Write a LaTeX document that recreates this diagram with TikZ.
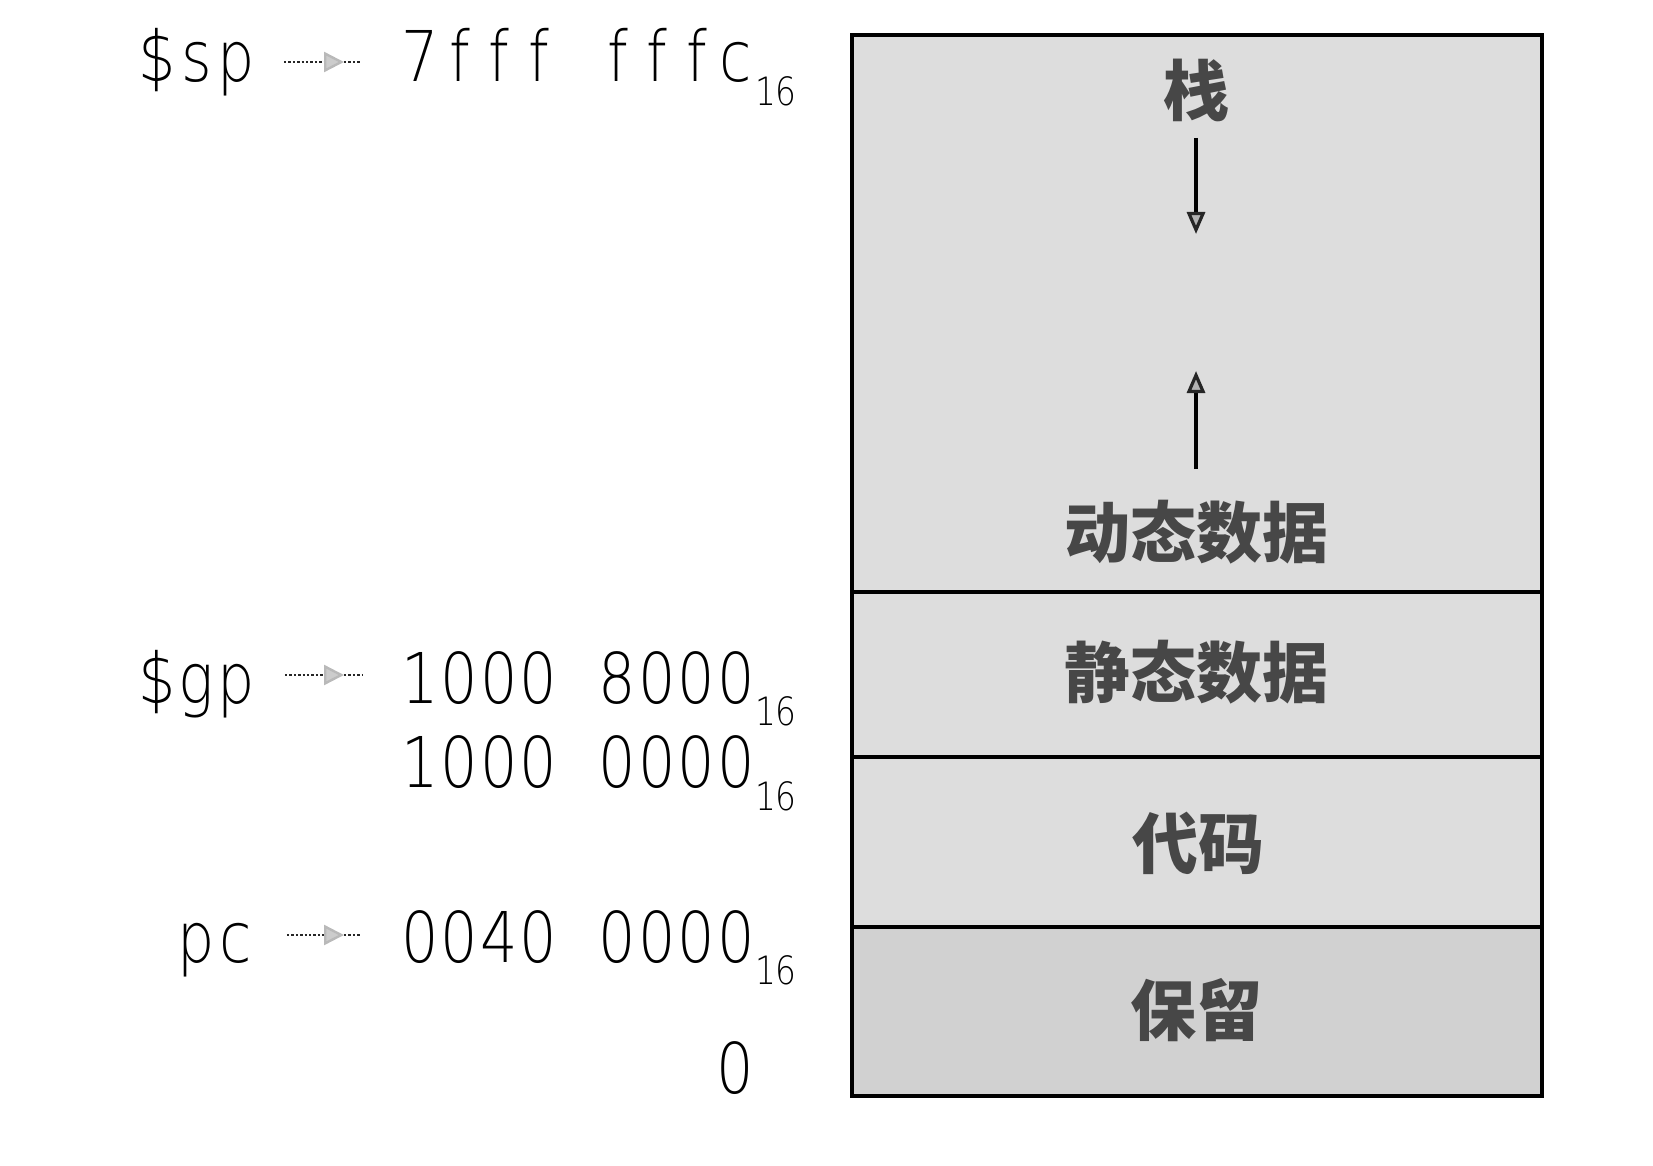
\documentclass[tikz,border=0pt]{standalone}
\usepackage{fontspec}
\usetikzlibrary{arrows.meta}
\newfontfamily\addrfont{DejaVu Sans ExtraLight}[FakeStretch=0.84]
\newfontfamily\cjk{Noto Sans CJK SC}
\newcommand\mcell[1]{\makebox[19.75pt][c]{#1}}
\newcommand\scell[1]{\makebox[9.6pt][c]{#1}}
\tikzset{
  segfill/.style={fill=gray!27},
  segfilldark/.style={fill=gray!36},
  seglabel/.style={font=\cjk\bfseries\fontsize{33}{33}\selectfont, text=black!72, inner sep=0pt},
  reglabel/.style={font=\addrfont\fontsize{35}{35}\selectfont, inner sep=0pt, anchor=base east},
  addrtext/.style={font=\addrfont\fontsize{35}{35}\selectfont, inner sep=0pt, anchor=base west},
  subtext/.style={font=\addrfont\fontsize{19.5}{19.5}\selectfont, inner sep=0pt, anchor=base west},
  ptrline/.style={densely dotted, draw=black!85, line width=1.2pt},
  ptrarrow/.style={ptrline, -{Triangle[length=10pt,width=10pt,color=gray!55,fill=gray!40]}},
  growarrow/.style={line width=1.6pt, -{Triangle[length=11pt,width=9pt,color=black!85,fill=gray!60]}}
}
\begin{document}
\begin{tikzpicture}[x=0.5pt,y=-0.5pt]
\useasboundingbox (0,0) rectangle (1653,1166);
% regions
\fill[segfill] (852,35) rectangle (1542,592);
\fill[segfill] (852,592) rectangle (1542,757);
\fill[segfill] (852,757) rectangle (1542,927);
\fill[segfilldark] (852,927) rectangle (1542,1096);
\draw[line width=1.8pt] (852,35) rectangle (1542,1096);
\draw[line width=1.8pt] (852,592) -- (1542,592);
\draw[line width=1.8pt] (852,757) -- (1542,757);
\draw[line width=1.8pt] (852,927) -- (1542,927);
% segment labels
\node[seglabel] (stack) at (1196,90) {栈};
\node[seglabel] (dyn) at (1196,532) {动态数据};
\node[seglabel] (stat) at (1196,672) {静态数据};
\node[seglabel] (code) at (1198,843) {代码};
\node[seglabel] (res) at (1196,1010) {保留};
% growth arrows
\coordinate (d1) at (1196,138);
\coordinate (d2) at (1196,234);
\coordinate (u1) at (1196,469);
\coordinate (u2) at (1196,371);
\draw[growarrow] (d1) -- (d2);
\draw[growarrow] (u1) -- (u2);
% register labels
\node[reglabel] (sp) at (256,82) {\mcell{\$}\mcell{s}\mcell{p}};
\node[reglabel] (gp) at (256,703) {\mcell{\$}\mcell{g}\mcell{p}};
\node[reglabel] (pc) at (256,962) {\mcell{p}\mcell{c}};
% addresses
\node[addrtext] (a1) at (400,82) {\mcell{7}\mcell{f}\mcell{f}\mcell{f}\mcell{ }\mcell{f}\mcell{f}\mcell{f}\mcell{c}};
\node[subtext, yshift=-12pt] (s1) at (a1.base east) {\scell{1}\scell{6}};
\node[addrtext] (a2) at (400,703) {\mcell{1}\mcell{0}\mcell{0}\mcell{0}\mcell{ }\mcell{8}\mcell{0}\mcell{0}\mcell{0}};
\node[subtext, yshift=-11pt] (s2) at (a2.base east) {\scell{1}\scell{6}};
\node[addrtext] (a3) at (400,787) {\mcell{1}\mcell{0}\mcell{0}\mcell{0}\mcell{ }\mcell{0}\mcell{0}\mcell{0}\mcell{0}};
\node[subtext, yshift=-11.5pt] (s3) at (a3.base east) {\scell{1}\scell{6}};
\node[addrtext] (a4) at (400,962) {\mcell{0}\mcell{0}\mcell{4}\mcell{0}\mcell{ }\mcell{0}\mcell{0}\mcell{0}\mcell{0}};
\node[subtext, yshift=-11pt] (s4) at (a4.base east) {\scell{1}\scell{6}};
\node[addrtext, anchor=base] (z) at (735,1093) {0};
% pointer arrows
\coordinate (p1a) at (284,62);  \coordinate (p1m) at (344,62);  \coordinate (p1b) at (360,62);
\coordinate (p2a) at (285,675); \coordinate (p2m) at (344,675); \coordinate (p2b) at (362,675);
\coordinate (p3a) at (287,935); \coordinate (p3m) at (344,935); \coordinate (p3b) at (360,935);
\draw[ptrline] (p1m) -- (p1b);
\draw[ptrline] (p2m) -- (p2b);
\draw[ptrline] (p3m) -- (p3b);
\draw[ptrarrow] (p1a) -- (p1m);
\draw[ptrarrow] (p2a) -- (p2m);
\draw[ptrarrow] (p3a) -- (p3m);
\end{tikzpicture}
\end{document}
